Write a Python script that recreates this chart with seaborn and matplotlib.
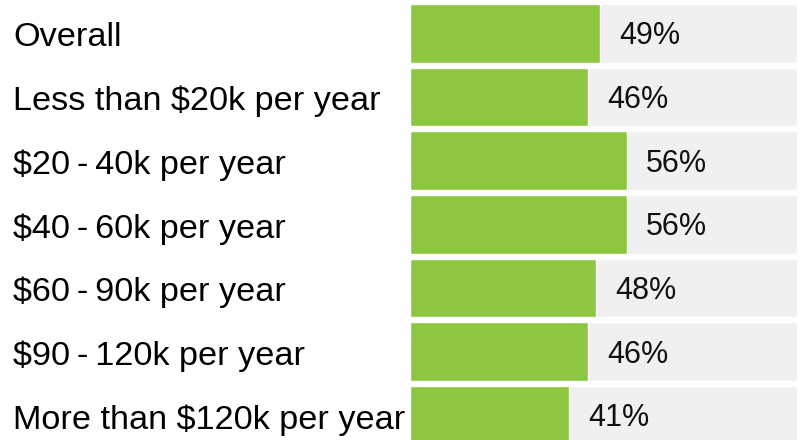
import matplotlib
matplotlib.use("Agg")
import matplotlib.pyplot as plt
import matplotlib.transforms as mtransforms
import seaborn as sns
import pandas as pd

categories = [
    "Overall",
    "Less than $20k per year",
    "$20\u2009-\u200940k per year",
    "$40\u2009-\u200960k per year",
    "$60\u2009-\u200990k per year",
    "$90\u2009-\u2009120k per year",
    "More than $120k per year",
]
values = [49, 46, 56, 56, 48, 46, 41]
full_scale = [100] * len(categories)

GREEN = "#8DC63F"
TRACK = "#F0F0F0"

sns.set_theme(style="white")
plt.rcParams["font.family"] = ["Liberation Sans", "DejaVu Sans"]

df = pd.DataFrame({"label": categories, "value": values, "track": full_scale})

W, H, DPI = 803, 440, 100
fig = plt.figure(figsize=(W / DPI, H / DPI), dpi=DPI)
ax = fig.add_axes([410 / W, 0, 387 / W, 1])

sns.barplot(data=df, x="track", y="label", orient="h", color=TRACK,
            width=0.92, saturation=1, ax=ax, zorder=1)
sns.barplot(data=df, x="value", y="label", orient="h", color=GREEN,
            width=0.92, saturation=1, ax=ax, zorder=2)

ax.set_xlim(0, 100)
pitch = 63.67
top_center = 33.25
ax.set_ylim((H - top_center) / pitch, -top_center / pitch)
ax.set_axis_off()

trans = mtransforms.blended_transform_factory(fig.transFigure, ax.transData)
for i, (lab, v) in enumerate(zip(categories, values)):
    ax.text(13 / W, i + 4.5 / pitch, lab, transform=trans, ha="left", va="center",
            fontsize=24.7, color="black", zorder=0.5, clip_on=False)
    ax.text(v + 5, i + 3 / pitch, f"{v}%", ha="left", va="center",
            fontsize=22, color="#111111", zorder=3)

fig.savefig("out.png", dpi=DPI)
